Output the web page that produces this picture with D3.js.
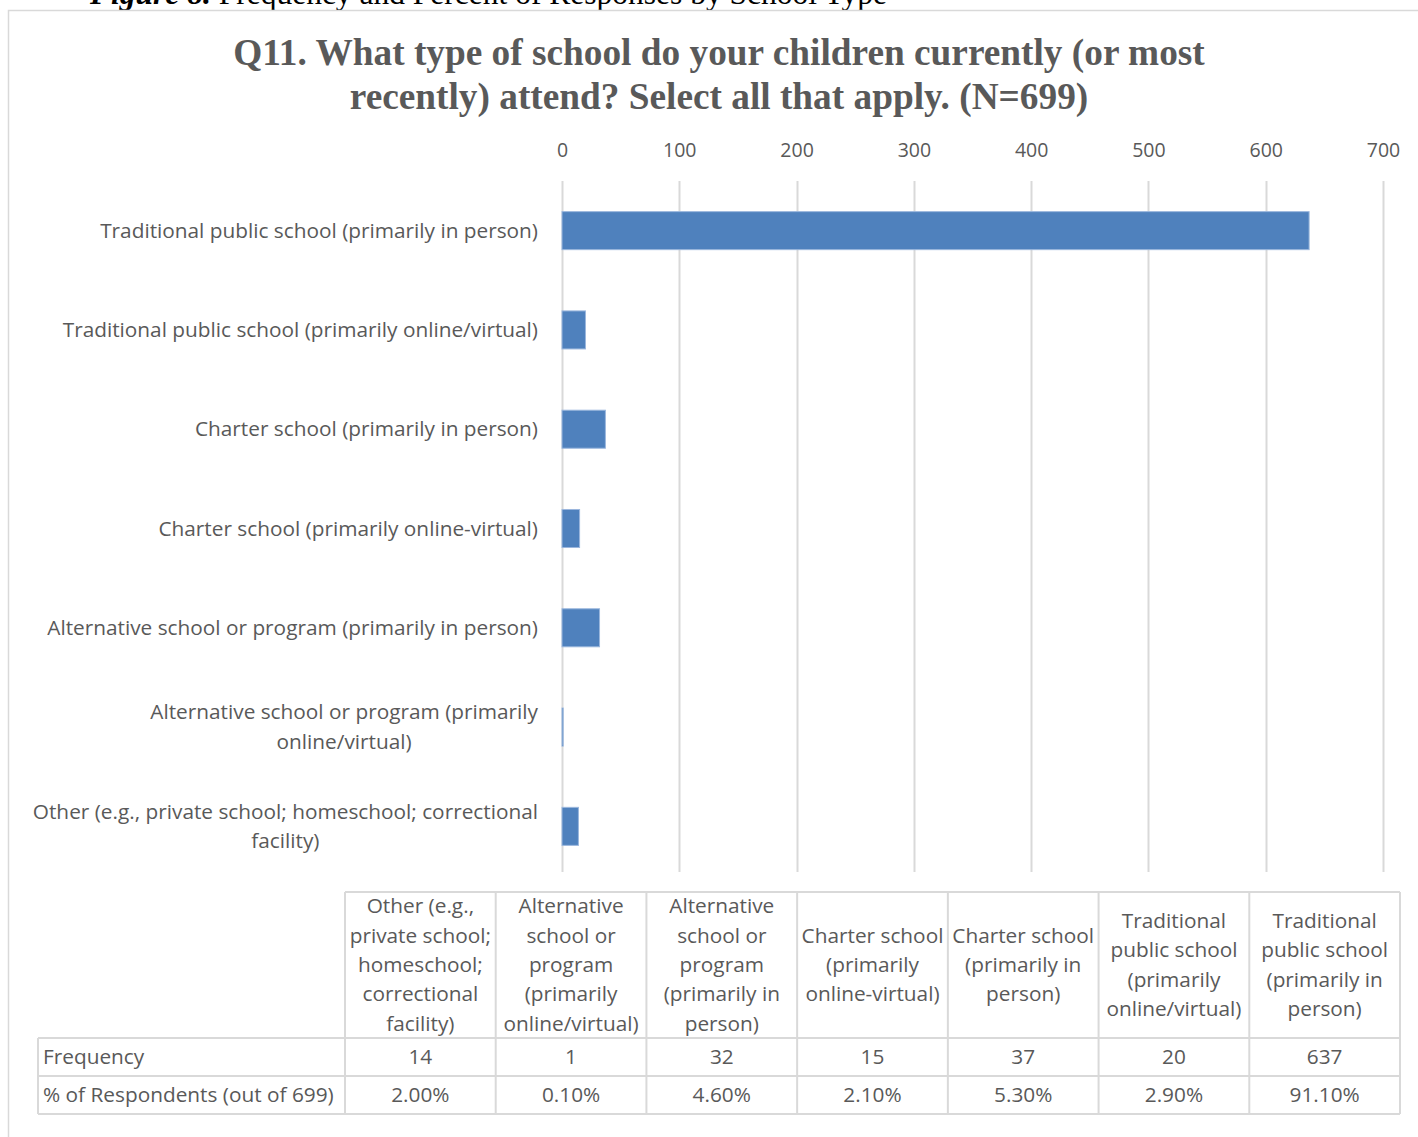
<!DOCTYPE html>
<html>
<head>
<meta charset="utf-8">
<script src="https://cdn.jsdelivr.net/npm/d3@7"></script>
<style>
  html, body { margin: 0; padding: 0; background: #fff; }
  svg { display: block; }
</style>
</head>
<body>
<svg id="chart" width="1418" height="1137"></svg>
<script>
// School types, top to bottom as drawn in the bar chart
const categories = [
  "Traditional public school (primarily in person)",
  "Traditional public school (primarily online/virtual)",
  "Charter school (primarily in person)",
  "Charter school (primarily online-virtual)",
  "Alternative school or program (primarily in person)",
  "Alternative school or program (primarily online/virtual)",
  "Other (e.g., private school; homeschool; correctional facility)"
];
// Wrapped axis label lines for each category
const categoryLines = [
  ["Traditional public school (primarily in person)"],
  ["Traditional public school (primarily online/virtual)"],
  ["Charter school (primarily in person)"],
  ["Charter school (primarily online-virtual)"],
  ["Alternative school or program (primarily in person)"],
  ["Alternative school or program (primarily", "online/virtual)"],
  ["Other (e.g., private school; homeschool; correctional", "facility)"]
];
const frequencies = [637, 20, 37, 15, 32, 1, 14];
const percents = ["91.10%", "2.90%", "5.30%", "2.10%", "4.60%", "0.10%", "2.00%"];
const xTicks = [0, 100, 200, 300, 400, 500, 600, 700];

// Data table header lines (table runs in reverse category order)
const tableHeaderLines = [
  ["Other (e.g.,", "private school;", "homeschool;", "correctional", "facility)"],
  ["Alternative", "school or", "program", "(primarily", "online/virtual)"],
  ["Alternative", "school or", "program", "(primarily in", "person)"],
  ["Charter school", "(primarily", "online-virtual)"],
  ["Charter school", "(primarily in", "person)"],
  ["Traditional", "public school", "(primarily", "online/virtual)"],
  ["Traditional", "public school", "(primarily in", "person)"]
];
const rowLabels = ["Frequency", "% of Respondents (out of 699)"];

const title = ["Q11. What type of school do your children currently (or most",
               "recently) attend? Select all that apply. (N=699)"];

const svg = d3.select("#chart");
const sans = "'Open Sans', 'Noto Sans', sans-serif";
const textGray = "#595959";
const gridGray = "#d9d9d9";
const fs = 20.8;

// Figure caption above the chart frame (the frame overlaps its lower edge)
const cap = svg.append("text")
  .attr("x", 90).attr("y", 4)
  .attr("font-family", "'Liberation Serif', serif")
  .attr("font-size", 31.5).attr("fill", "#000");
cap.append("tspan").attr("font-weight", "bold").attr("font-style", "italic").text("Figure 8.");
cap.append("tspan").text(" Frequency and Percent of Responses by School Type");

// Chart frame
svg.append("rect")
  .attr("x", 8.5).attr("y", 10.5).attr("width", 1430).attr("height", 1150)
  .attr("fill", "#fff").attr("stroke", "#d9d9d9").attr("stroke-width", 1.5);

// Title
svg.append("g").selectAll("text").data(title).join("text")
  .attr("x", 719).attr("y", (d, i) => 65 + i * 44)
  .attr("text-anchor", "middle")
  .attr("font-family", "'Liberation Serif', 'Times New Roman', serif")
  .attr("font-weight", "bold").attr("font-size", 37.3)
  .attr("fill", textGray)
  .text(d => d);

// Scales
const x = d3.scaleLinear().domain([0, 700]).range([562, 1383]);
const y = d3.scaleBand().domain(categories).range([181, 876]).paddingInner(0.617).paddingOuter(0.3085);

// Gridlines
svg.append("g").selectAll("line").data(xTicks).join("line")
  .attr("x1", d => Math.round(x(d)) + 0.5).attr("x2", d => Math.round(x(d)) + 0.5)
  .attr("y1", 181).attr("y2", 872)
  .attr("stroke", gridGray).attr("stroke-width", 2);

// Top axis labels
const xAxis = svg.append("g")
  .attr("transform", "translate(0,157)")
  .call(d3.axisTop(x).tickValues(xTicks).tickSize(0).tickPadding(0));
xAxis.select(".domain").remove();
xAxis.selectAll("text")
  .attr("font-family", sans).attr("font-size", 19.5).attr("fill", textGray);

// Bars
svg.append("g").selectAll("rect").data(categories).join("rect")
  .attr("x", x(0))
  .attr("y", d => y(d))
  .attr("width", (d, i) => x(frequencies[i]) - x(0))
  .attr("height", y.bandwidth())
  .attr("fill", "#4f81bd")
  .attr("stroke", "#9bb7dd").attr("stroke-width", 1);

// Category labels (wrapped lines centred on each other, block right aligned)
const labelRight = 538;
const catG = svg.append("g");
categories.forEach((c, i) => {
  const lines = categoryLines[i];
  const cy = y(c) + y.bandwidth() / 2;
  const lh = 29.5;
  const g = catG.append("g");
  const texts = g.selectAll("text").data(lines).join("text")
    .attr("y", (d, j) => cy + (j - (lines.length - 1) / 2) * lh + 7)
    .attr("font-family", sans).attr("font-size", fs).attr("fill", textGray)
    .attr("text-anchor", "middle")
    .text(d => d);
  let maxW = 0;
  texts.each(function () { maxW = Math.max(maxW, this.getComputedTextLength()); });
  texts.attr("x", labelRight - maxW / 2);
});

// Data table
const colX = d3.scaleBand().domain(d3.range(categories.length)).range([345, 1400]);
const tableTop = 892, headerBottom = 1038, rowH = 38;
const tableLeft = 38;
const tbl = svg.append("g");
const tableOrder = d3.range(categories.length).map(i => categories.length - 1 - i);

// Header cells
tableHeaderLines.forEach((lines, k) => {
  const cx = colX(k) + colX.bandwidth() / 2;
  const cy = (tableTop + headerBottom) / 2;
  tbl.append("g").selectAll("text").data(lines).join("text")
    .attr("x", cx)
    .attr("y", (d, j) => cy + (j - (lines.length - 1) / 2) * 29.4 + 7)
    .attr("text-anchor", "middle")
    .attr("font-family", sans).attr("font-size", fs).attr("fill", textGray)
    .text(d => d);
});

// Row labels and values
const rowValues = [
  tableOrder.map(i => String(frequencies[i])),
  tableOrder.map(i => percents[i])
];
rowValues.forEach((vals, r) => {
  const cy = headerBottom + r * rowH + rowH / 2;
  tbl.append("text")
    .attr("x", tableLeft + 5).attr("y", cy + 7)
    .attr("font-family", sans).attr("font-size", fs).attr("fill", textGray)
    .text(rowLabels[r]);
  tbl.append("g").selectAll("text").data(vals).join("text")
    .attr("x", (d, k) => colX(k) + colX.bandwidth() / 2)
    .attr("y", cy + 7)
    .attr("text-anchor", "middle")
    .attr("font-family", sans).attr("font-size", fs).attr("fill", textGray)
    .text(d => d);
});

// Table grid lines
const lineStyle = sel => sel.attr("stroke", gridGray).attr("stroke-width", 2).attr("fill", "none");
const tableBottom = headerBottom + 2 * rowH;
// horizontal
[[345, 1400, tableTop], [tableLeft, 1400, headerBottom], [tableLeft, 1400, headerBottom + rowH], [tableLeft, 1400, tableBottom]]
  .forEach(([x1, x2, yy]) => tbl.append("line").attr("x1", x1).attr("x2", x2).attr("y1", yy).attr("y2", yy).call(lineStyle));
// vertical
tbl.append("line").attr("x1", tableLeft).attr("x2", tableLeft).attr("y1", headerBottom).attr("y2", tableBottom).call(lineStyle);
d3.range(categories.length + 1).forEach(k => {
  const xx = k < categories.length ? colX(k) : 1400;
  tbl.append("line").attr("x1", xx).attr("x2", xx).attr("y1", tableTop).attr("y2", tableBottom).call(lineStyle);
});
</script>
</body>
</html>
